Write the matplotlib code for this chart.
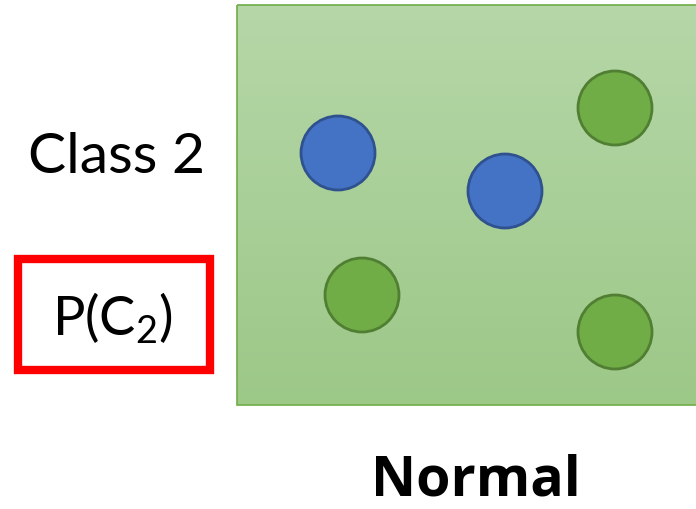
import matplotlib
matplotlib.use("Agg")
import matplotlib.pyplot as plt
import numpy as np
from matplotlib.patches import Rectangle, Circle

plt.rcParams['font.family'] = ['Lato', 'DejaVu Sans']
plt.rcParams['mathtext.default'] = 'regular'

# Data (pixel-space layout of the diagram)
class_label = "Class 2"
prior_label = "P(C$_2$)"
region_label = "Normal"
point_x = [338, 505, 615, 362, 615]
point_y = [154, 192, 109, 296, 333]
point_class = ["blue", "blue", "green", "green", "green"]
point_radius = 37

W, H = 696, 510
fig = plt.figure(figsize=(W / 100, H / 100), dpi=100)
ax = fig.add_axes([0, 0, 1, 1])
ax.set_xlim(0, W)
ax.set_ylim(H, 0)
ax.axis('off')

# Gradient green rectangle
rx0, ry0, rx1, ry1 = 237, 6, 700, 406
top = np.array([0xb6, 0xd7, 0xa8]) / 255
bot = np.array([0x9c, 0xc8, 0x88]) / 255
t = np.linspace(0, 1, 200)[:, None]
grad = (top[None, :] * (1 - t) + bot[None, :] * t)[:, None, :]
ax.imshow(grad, extent=[rx0, rx1, ry1, ry0], aspect='auto', zorder=1)
ax.add_patch(Rectangle((rx0, ry0), rx1 - rx0, ry1 - ry0, fill=False,
                       edgecolor='#70ad47', lw=1.2, zorder=2))

colors = {"blue": ("#4472c4", "#2f528f"), "green": ("#70ad47", "#507e32")}
for x, y, c in zip(point_x, point_y, point_class):
    fc, ec = colors[c]
    ax.add_patch(Circle((x, y), point_radius, facecolor=fc, edgecolor=ec,
                        lw=2.0, zorder=3))

ax.text(117, 158, class_label, fontsize=41, ha='center', va='center', color='black')
ax.add_patch(Rectangle((18, 260), 192, 111, fill=False, edgecolor='#ff0000', lw=6, zorder=4))
ax.text(113, 318, prior_label, fontsize=39, ha='center', va='center', color='black')
ax.text(476, 481, region_label, fontsize=40, fontweight='bold', ha='center', va='center',
        color='black', family=['Open Sans', 'DejaVu Sans'])

fig.savefig("out.png", dpi=100)
